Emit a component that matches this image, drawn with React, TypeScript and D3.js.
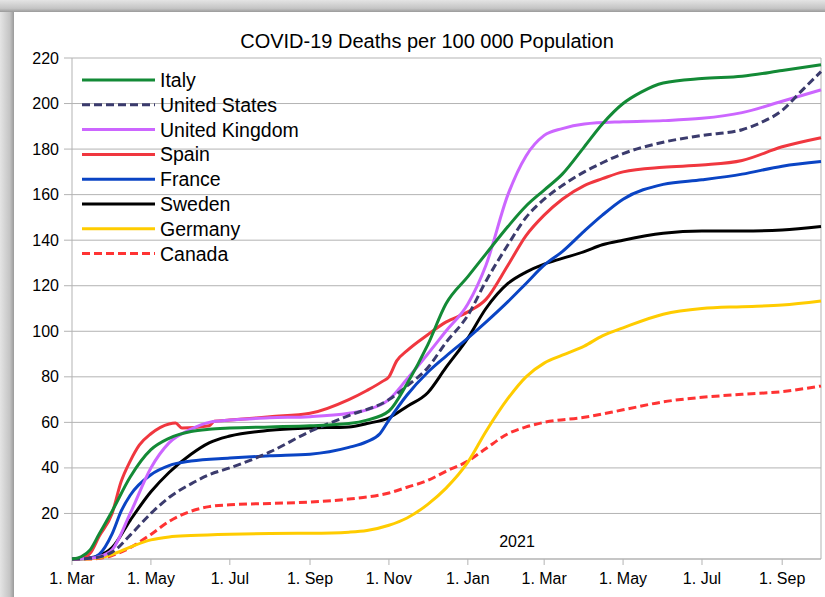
import { useEffect, useRef } from 'react';
import * as d3 from 'd3';

const W = 825;
const H = 597;

const TITLE = 'COVID-19 Deaths per 100 000 Population';
const YEAR_LABEL = '2021';

const Y_TICKS = [20, 40, 60, 80, 100, 120, 140, 160, 180, 200, 220];
const X_TICKS = ['2020-03-01', '2020-05-01', '2020-07-01', '2020-09-01', '2020-11-01', '2021-01-01',
  '2021-03-01', '2021-05-01', '2021-07-01', '2021-09-01'];

type Pt = [string, number];

const italy: Pt[] = [
  ['2020-03-01', 0], ['2020-03-08', 1], ['2020-03-15', 4], ['2020-03-22', 11], ['2020-04-01', 21],
  ['2020-04-15', 36], ['2020-05-01', 48], ['2020-05-15', 53], ['2020-06-01', 56], ['2020-06-15', 57],
  ['2020-07-01', 57.5], ['2020-08-01', 58], ['2020-09-01', 58.5], ['2020-10-01', 59.5], ['2020-10-15', 61],
  ['2020-11-01', 65], ['2020-11-15', 77], ['2020-12-01', 94], ['2020-12-15', 112], ['2021-01-01', 124],
  ['2021-01-15', 134], ['2021-02-01', 146], ['2021-02-15', 155], ['2021-03-01', 162], ['2021-03-15', 169],
  ['2021-04-01', 181], ['2021-04-15', 191], ['2021-05-01', 200], ['2021-05-15', 205], ['2021-06-01', 209],
  ['2021-07-01', 211], ['2021-08-01', 212], ['2021-09-01', 214.5], ['2021-10-01', 217],
];

const usa: Pt[] = [
  ['2020-03-01', 0], ['2020-03-15', 0.3], ['2020-04-01', 3], ['2020-04-15', 10.5], ['2020-05-01', 20],
  ['2020-05-15', 27], ['2020-06-01', 33], ['2020-06-15', 37], ['2020-07-01', 40], ['2020-08-01', 47],
  ['2020-09-01', 56], ['2020-10-01', 63], ['2020-11-01', 70], ['2020-11-15', 76], ['2020-12-01', 84],
  ['2020-12-15', 95], ['2021-01-01', 107], ['2021-01-15', 122], ['2021-02-01', 138], ['2021-02-15', 150],
  ['2021-03-01', 158], ['2021-03-15', 164], ['2021-04-01', 170], ['2021-04-15', 174], ['2021-05-01', 178],
  ['2021-06-01', 183], ['2021-07-01', 186], ['2021-08-01', 188.5], ['2021-08-15', 191.5], ['2021-09-01', 197],
  ['2021-09-15', 205], ['2021-10-01', 214],
];

const uk: Pt[] = [
  ['2020-03-01', 0], ['2020-03-15', 0.3], ['2020-03-22', 1], ['2020-04-01', 4], ['2020-04-15', 20],
  ['2020-05-01', 40], ['2020-05-15', 51], ['2020-06-01', 57], ['2020-06-15', 60], ['2020-07-01', 61],
  ['2020-08-01', 62], ['2020-09-01', 62.5], ['2020-10-01', 64], ['2020-10-15', 65.5], ['2020-11-01', 70],
  ['2020-11-15', 79], ['2020-12-01', 90], ['2020-12-15', 100], ['2021-01-01', 112], ['2021-01-15', 129],
  ['2021-02-01', 160], ['2021-02-15', 177], ['2021-03-01', 186], ['2021-03-15', 189], ['2021-04-01', 191],
  ['2021-05-01', 192], ['2021-06-01', 192.5], ['2021-07-01', 193.5], ['2021-08-01', 196], ['2021-09-01', 201],
  ['2021-10-01', 206],
];

const spain: Pt[] = [
  ['2020-03-01', 0], ['2020-03-08', 0.3], ['2020-03-15', 2.5], ['2020-03-22', 10], ['2020-04-01', 20],
  ['2020-04-08', 34], ['2020-04-15', 43], ['2020-04-22', 50], ['2020-05-01', 55], ['2020-05-15', 59.3],
  ['2020-05-20', 59.7], ['2020-05-25', 57.5], ['2020-06-15', 58.5], ['2020-06-19', 60.5], ['2020-07-01', 61],
  ['2020-08-01', 62.5], ['2020-09-01', 64], ['2020-10-01', 70], ['2020-10-15', 74], ['2020-10-27', 78],
  ['2020-11-01', 80], ['2020-11-07', 87], ['2020-11-15', 91.5], ['2020-12-01', 98.5], ['2020-12-15', 104],
  ['2021-01-01', 108.5], ['2021-01-15', 114], ['2021-02-01', 129], ['2021-02-15', 142], ['2021-03-01', 151],
  ['2021-03-15', 158], ['2021-04-01', 164], ['2021-04-15', 167], ['2021-05-01', 170], ['2021-06-01', 172],
  ['2021-07-01', 173], ['2021-08-01', 175], ['2021-09-01', 181], ['2021-10-01', 185],
];

const france: Pt[] = [
  ['2020-03-01', 0], ['2020-03-15', 0.3], ['2020-03-22', 2], ['2020-04-01', 11], ['2020-04-08', 21],
  ['2020-04-15', 28], ['2020-05-01', 37], ['2020-05-15', 41], ['2020-06-01', 43], ['2020-07-01', 44.3],
  ['2020-08-01', 45.3], ['2020-09-01', 46], ['2020-10-01', 49], ['2020-10-15', 51.5], ['2020-10-25', 55],
  ['2020-11-01', 61], ['2020-11-15', 72], ['2020-12-01', 82], ['2020-12-15', 89], ['2021-01-01', 97],
  ['2021-01-15', 104], ['2021-02-01', 113], ['2021-02-15', 121], ['2021-03-01', 129], ['2021-03-15', 135],
  ['2021-04-01', 144], ['2021-04-15', 151], ['2021-05-01', 158], ['2021-06-01', 164.5], ['2021-07-01', 166.5],
  ['2021-08-01', 169], ['2021-09-01', 172.5], ['2021-10-01', 174.5],
];

const sweden: Pt[] = [
  ['2020-03-01', 0], ['2020-03-15', 0.5], ['2020-03-22', 1.5], ['2020-04-01', 5], ['2020-04-15', 17],
  ['2020-05-01', 29.5], ['2020-05-15', 38], ['2020-06-01', 46], ['2020-06-15', 51], ['2020-07-01', 54],
  ['2020-08-01', 56.5], ['2020-09-01', 57.5], ['2020-10-01', 58], ['2020-10-15', 59.5], ['2020-11-01', 62],
  ['2020-11-15', 67], ['2020-12-01', 73], ['2020-12-15', 84], ['2021-01-01', 97], ['2021-01-15', 110],
  ['2021-02-01', 121], ['2021-02-15', 126], ['2021-03-01', 129.5], ['2021-03-15', 132], ['2021-04-01', 135],
  ['2021-04-15', 138], ['2021-05-01', 140], ['2021-06-01', 143], ['2021-07-01', 144], ['2021-08-01', 144],
  ['2021-09-01', 144.5], ['2021-10-01', 146],
];

const germany: Pt[] = [
  ['2020-03-01', 0], ['2020-03-15', 0.1], ['2020-03-22', 0.6], ['2020-04-01', 2], ['2020-04-15', 5.2],
  ['2020-05-01', 8.4], ['2020-05-15', 9.7], ['2020-06-01', 10.3], ['2020-07-01', 10.9], ['2020-08-01', 11.2],
  ['2020-09-01', 11.3], ['2020-10-01', 11.8], ['2020-10-15', 12.5], ['2020-11-01', 14.8], ['2020-11-15', 18],
  ['2020-12-01', 24], ['2020-12-15', 31], ['2021-01-01', 42.5], ['2021-01-15', 56], ['2021-02-01', 70.5],
  ['2021-02-15', 80], ['2021-03-01', 86], ['2021-03-15', 89.5], ['2021-04-01', 93.5], ['2021-04-15', 98],
  ['2021-05-01', 101.5], ['2021-06-01', 107.5], ['2021-07-01', 110], ['2021-08-01', 110.8], ['2021-09-01', 111.5],
  ['2021-10-01', 113.3],
];

const canada: Pt[] = [
  ['2020-03-01', 0], ['2020-03-15', 0], ['2020-03-22', 0.3], ['2020-04-01', 1.5], ['2020-04-15', 5],
  ['2020-05-01', 10.8], ['2020-05-15', 16.5], ['2020-06-01', 21], ['2020-06-15', 23], ['2020-07-01', 23.8],
  ['2020-08-01', 24.4], ['2020-09-01', 25], ['2020-10-01', 26.3], ['2020-11-01', 29], ['2020-11-15', 31.5],
  ['2020-12-01', 34.5], ['2020-12-15', 38.5], ['2021-01-01', 43], ['2021-01-15', 48.5], ['2021-02-01', 55],
  ['2021-02-15', 58], ['2021-03-01', 60], ['2021-04-01', 62.2], ['2021-05-01', 65.5], ['2021-06-01', 69],
  ['2021-07-01', 71], ['2021-08-01', 72.3], ['2021-09-01', 73.5], ['2021-10-01', 76],
];

const SERIES = [
  { name: 'Italy', data: italy, color: '#138a36', dash: null },
  { name: 'United States', data: usa, color: '#3b3b6d', dash: '8,4' },
  { name: 'United Kingdom', data: uk, color: '#cc66ff', dash: null },
  { name: 'Spain', data: spain, color: '#f0373f', dash: null },
  { name: 'France', data: france, color: '#0a44c4', dash: null },
  { name: 'Sweden', data: sweden, color: '#000000', dash: null },
  { name: 'Germany', data: germany, color: '#ffcc00', dash: null },
  { name: 'Canada', data: canada, color: '#ff3333', dash: '8,4' },
];

const FONT = 'Liberation Sans, Arial, sans-serif';

export default function App() {
  const svgRef = useRef<SVGSVGElement>(null);

  useEffect(() => {
    if (!svgRef.current) return;
    const svg = d3.select(svgRef.current);
    svg.selectAll('*').remove();

    const parse = d3.timeParse('%Y-%m-%d');
    const margin = { left: 72, top: 58, right: 821, bottom: 559 };

    const x = d3.scaleTime()
      .domain([parse('2020-03-01')!, parse('2021-10-01')!])
      .range([margin.left, margin.right]);
    const y = d3.scaleLinear().domain([0, 220]).range([margin.bottom, margin.top]);

    // frame with shadow
    const defs = svg.append('defs');
    const gl = defs.append('linearGradient').attr('id', 'shL').attr('x1', 0).attr('x2', 1).attr('y1', 0).attr('y2', 0);
    gl.append('stop').attr('offset', 0).attr('stop-color', '#e4e4e4');
    gl.append('stop').attr('offset', 0.7).attr('stop-color', '#c4c4c4');
    gl.append('stop').attr('offset', 1).attr('stop-color', '#9a9a9a');
    const gt = defs.append('linearGradient').attr('id', 'shT').attr('x1', 0).attr('x2', 0).attr('y1', 0).attr('y2', 1);
    gt.append('stop').attr('offset', 0).attr('stop-color', '#e4e4e4');
    gt.append('stop').attr('offset', 0.7).attr('stop-color', '#c4c4c4');
    gt.append('stop').attr('offset', 1).attr('stop-color', '#9a9a9a');

    svg.append('rect').attr('width', W).attr('height', H).attr('fill', '#ffffff');
    svg.append('rect').attr('x', 0).attr('y', 0).attr('width', 14).attr('height', H).attr('fill', 'url(#shL)');
    svg.append('rect').attr('x', 0).attr('y', 0).attr('width', W).attr('height', 12).attr('fill', 'url(#shT)');
    svg.append('rect').attr('x', 14).attr('y', 12).attr('width', W - 14).attr('height', H - 12).attr('fill', '#ffffff');

    // title
    svg.append('text').attr('x', 427).attr('y', 48).attr('text-anchor', 'middle')
      .attr('font-family', FONT).attr('font-size', 20).attr('fill', '#000').text(TITLE);

    // grid
    const grid = svg.append('g');
    Y_TICKS.forEach(v => {
      grid.append('line').attr('x1', margin.left - 8).attr('x2', margin.right)
        .attr('y1', y(v)).attr('y2', y(v)).attr('stroke', '#b3b3b3').attr('stroke-width', 1);
      svg.append('text').attr('x', 59).attr('y', y(v) + 5.5).attr('text-anchor', 'end')
        .attr('font-family', FONT).attr('font-size', 16).attr('fill', '#000').text(String(v));
    });
    grid.append('line').attr('x1', margin.left).attr('x2', margin.left)
      .attr('y1', margin.top).attr('y2', margin.bottom).attr('stroke', '#b3b3b3');
    grid.append('line').attr('x1', margin.right).attr('x2', margin.right)
      .attr('y1', margin.top).attr('y2', margin.bottom).attr('stroke', '#b3b3b3');
    grid.append('line').attr('x1', margin.left).attr('x2', margin.right)
      .attr('y1', margin.bottom).attr('y2', margin.bottom).attr('stroke', '#b3b3b3').attr('stroke-width', 1.5);

    X_TICKS.forEach(s => {
      const d = parse(s)!;
      const xx = x(d);
      grid.append('line').attr('x1', xx).attr('x2', xx).attr('y1', margin.bottom)
        .attr('y2', margin.bottom + 6).attr('stroke', '#b3b3b3');
      svg.append('text').attr('x', xx).attr('y', 584).attr('text-anchor', 'middle')
        .attr('font-family', FONT).attr('font-size', 16).attr('fill', '#000')
        .text(`1. ${d3.timeFormat('%b')(d)}`);
    });

    svg.append('text').attr('x', 517).attr('y', 547).attr('text-anchor', 'middle')
      .attr('font-family', FONT).attr('font-size', 16).attr('fill', '#000').text(YEAR_LABEL);

    // lines (drawn back to front)
    const line = d3.line<Pt>()
      .x(d => x(parse(d[0])!))
      .y(d => y(d[1]))
      .curve(d3.curveMonotoneX);

    const order = ['Canada', 'Germany', 'Sweden', 'France', 'Spain', 'United Kingdom', 'United States', 'Italy'];
    const linesG = svg.append('g');
    order.forEach(n => {
      const s = SERIES.find(k => k.name === n)!;
      linesG.append('path').attr('d', line(s.data)!).attr('fill', 'none')
        .attr('stroke', s.color).attr('stroke-width', 3)
        .attr('stroke-linejoin', 'round')
        .attr('stroke-dasharray', s.dash ?? null);
    });

    // legend
    const lg = svg.append('g');
    SERIES.forEach((s, i) => {
      const ly = 80 + i * 24.8;
      lg.append('line').attr('x1', 82).attr('x2', 155).attr('y1', ly).attr('y2', ly)
        .attr('stroke', s.color).attr('stroke-width', 3)
        .attr('stroke-dasharray', s.dash ?? null);
      lg.append('text').attr('x', 160).attr('y', ly + 7).attr('font-family', FONT)
        .attr('font-size', 19.5).attr('fill', '#000').text(s.name);
    });
  }, []);

  return (
    <svg ref={svgRef} width={W} height={H}
      style={{ position: 'absolute', left: 0, top: 0, display: 'block' }} />
  );
}
